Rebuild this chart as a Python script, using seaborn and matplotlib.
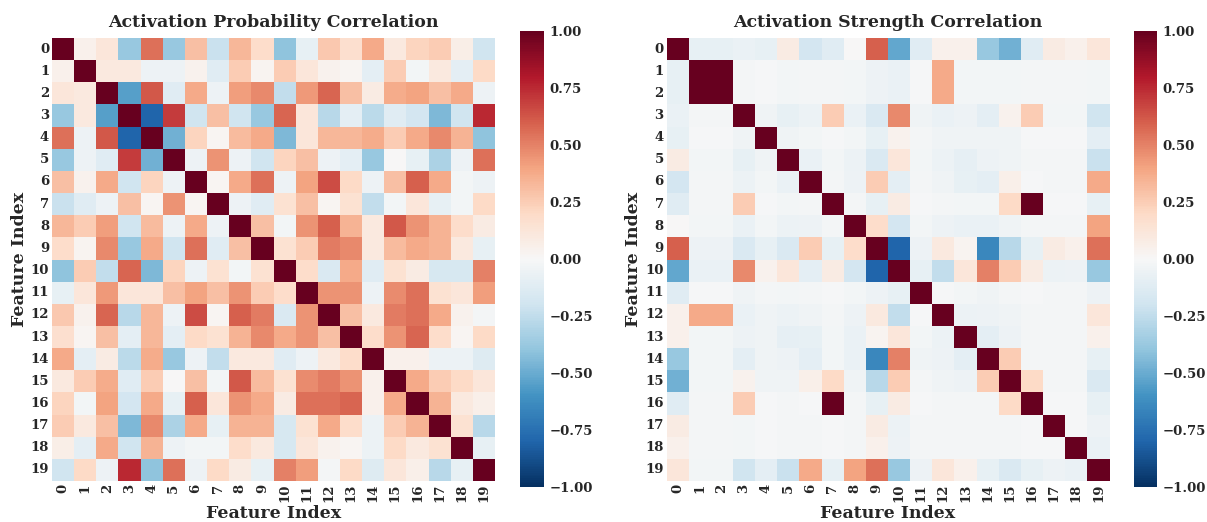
import matplotlib
matplotlib.use("Agg")
import matplotlib.pyplot as plt
import seaborn as sns
import numpy as np

features = [str(i) for i in range(20)]
cbar_ticks = [-1.0, -0.75, -0.5, -0.25, 0.0, 0.25, 0.5, 0.75, 1.0]

# Activation probability correlation
prob_corr = [
    [1.00, 0.05, 0.12, -0.38, 0.55, -0.38, 0.30, -0.22, 0.33, 0.18, -0.40, -0.08, 0.27, 0.17, 0.38, 0.10, 0.22, 0.25, 0.07, -0.20],
    [0.05, 1.00, 0.10, 0.10, -0.05, -0.05, 0.04, -0.12, 0.25, 0.03, 0.25, 0.12, 0.04, 0.02, -0.10, 0.25, -0.03, 0.10, -0.10, 0.20],
    [0.12, 0.10, 1.00, -0.55, 0.62, -0.12, 0.38, -0.05, 0.42, 0.48, -0.25, 0.43, 0.58, 0.30, 0.08, 0.37, 0.40, 0.30, 0.38, -0.05],
    [-0.38, 0.10, -0.55, 1.00, -0.80, 0.70, -0.20, 0.30, -0.20, -0.38, 0.58, 0.12, -0.28, -0.10, -0.27, -0.12, -0.18, -0.45, -0.20, 0.75],
    [0.55, -0.05, 0.62, -0.80, 1.00, -0.48, 0.22, 0.02, 0.32, 0.38, -0.45, 0.12, 0.33, 0.33, 0.37, 0.25, 0.38, 0.48, 0.35, -0.40],
    [-0.38, -0.05, -0.12, 0.70, -0.48, 1.00, -0.05, 0.45, -0.05, -0.20, 0.22, 0.30, -0.05, -0.10, -0.38, 0.00, -0.08, -0.32, -0.05, 0.55],
    [0.30, 0.04, 0.38, -0.20, 0.22, -0.05, 1.00, 0.02, 0.38, 0.55, -0.05, 0.40, 0.65, 0.20, -0.05, 0.30, 0.60, 0.38, -0.03, -0.05],
    [-0.22, -0.12, -0.05, 0.30, 0.02, 0.45, 0.02, 1.00, -0.05, -0.12, 0.15, 0.30, 0.02, 0.15, -0.25, -0.03, 0.12, -0.08, -0.03, 0.20],
    [0.33, 0.25, 0.42, -0.20, 0.32, -0.05, 0.38, -0.05, 1.00, 0.30, -0.03, 0.45, 0.60, 0.35, 0.10, 0.62, 0.45, 0.35, 0.18, 0.08],
    [0.18, 0.03, 0.48, -0.38, 0.38, -0.20, 0.55, -0.12, 0.30, 1.00, 0.15, 0.25, 0.52, 0.48, 0.10, 0.32, 0.38, 0.35, 0.10, -0.08],
    [-0.40, 0.25, -0.25, 0.58, -0.45, 0.22, -0.05, 0.15, -0.03, 0.15, 1.00, 0.18, -0.15, 0.38, -0.12, 0.15, 0.08, -0.17, -0.17, 0.50],
    [-0.08, 0.12, 0.43, 0.12, 0.12, 0.30, 0.40, 0.30, 0.45, 0.25, 0.18, 1.00, 0.45, 0.45, -0.05, 0.47, 0.55, 0.15, 0.12, 0.42],
    [0.27, 0.04, 0.58, -0.28, 0.33, -0.05, 0.65, 0.02, 0.60, 0.52, -0.15, 0.45, 1.00, 0.30, 0.10, 0.52, 0.55, 0.38, 0.04, -0.02],
    [0.17, 0.02, 0.30, -0.10, 0.33, -0.10, 0.20, 0.15, 0.35, 0.48, 0.38, 0.45, 0.30, 1.00, 0.18, 0.45, 0.58, 0.18, 0.02, 0.20],
    [0.38, -0.10, 0.08, -0.27, 0.37, -0.38, -0.05, -0.25, 0.10, 0.10, -0.12, -0.05, 0.10, 0.18, 1.00, 0.05, 0.05, -0.06, -0.06, -0.13],
    [0.10, 0.25, 0.37, -0.12, 0.25, 0.00, 0.30, -0.03, 0.62, 0.32, 0.15, 0.47, 0.52, 0.45, 0.05, 1.00, 0.38, 0.25, 0.20, 0.12],
    [0.22, -0.03, 0.40, -0.18, 0.38, -0.08, 0.60, 0.12, 0.45, 0.38, 0.08, 0.55, 0.55, 0.58, 0.05, 0.38, 1.00, 0.35, 0.10, 0.06],
    [0.25, 0.10, 0.30, -0.45, 0.48, -0.32, 0.38, -0.08, 0.35, 0.35, -0.17, 0.15, 0.38, 0.18, -0.06, 0.25, 0.35, 1.00, 0.15, -0.28],
    [0.07, -0.10, 0.38, -0.20, 0.35, -0.05, -0.03, -0.03, 0.18, 0.10, -0.17, 0.12, 0.04, 0.02, -0.06, 0.20, 0.10, 0.15, 1.00, -0.08],
    [-0.20, 0.20, -0.05, 0.75, -0.40, 0.55, -0.05, 0.20, 0.08, -0.08, 0.50, 0.42, -0.02, 0.20, -0.13, 0.12, 0.06, -0.28, -0.08, 1.00],
]

# Activation strength correlation
strength_corr = [
    [1.00, -0.08, -0.08, -0.07, -0.08, 0.08, -0.18, -0.12, 0.00, 0.60, -0.52, -0.12, 0.05, 0.05, -0.38, -0.48, -0.12, 0.08, 0.05, 0.12],
    [-0.08, 1.00, 1.00, -0.02, -0.01, -0.03, -0.02, -0.02, -0.03, -0.05, -0.07, -0.01, 0.38, -0.03, -0.03, -0.03, -0.02, -0.02, -0.02, -0.03],
    [-0.08, 1.00, 1.00, -0.02, -0.01, -0.03, -0.02, -0.02, -0.03, -0.05, -0.07, -0.01, 0.38, -0.03, -0.03, -0.03, -0.02, -0.02, -0.02, -0.03],
    [-0.07, -0.02, -0.02, 1.00, -0.04, -0.08, -0.06, 0.25, -0.07, -0.15, 0.48, -0.04, -0.07, -0.05, -0.10, 0.04, 0.25, -0.03, -0.03, -0.20],
    [-0.08, -0.01, -0.01, -0.04, 1.00, -0.04, -0.03, -0.01, -0.03, -0.08, 0.04, -0.02, -0.04, -0.04, -0.04, -0.04, -0.01, -0.01, -0.01, -0.10],
    [0.08, -0.03, -0.03, -0.08, -0.04, 1.00, -0.07, -0.03, -0.06, -0.15, 0.12, -0.03, -0.06, -0.09, -0.05, -0.04, -0.02, -0.02, -0.02, -0.22],
    [-0.18, -0.02, -0.02, -0.06, -0.03, -0.07, 1.00, -0.02, -0.05, 0.25, -0.10, -0.02, -0.04, -0.08, -0.10, 0.06, -0.01, -0.02, -0.02, 0.38],
    [-0.12, -0.02, -0.02, 0.25, -0.01, -0.03, -0.02, 1.00, -0.02, -0.08, 0.08, -0.01, -0.02, -0.03, -0.03, 0.20, 1.00, -0.01, -0.01, -0.08],
    [0.00, -0.03, -0.03, -0.07, -0.03, -0.06, -0.05, -0.02, 1.00, 0.18, -0.18, -0.03, -0.05, -0.07, -0.07, -0.04, -0.02, -0.02, -0.02, 0.40],
    [0.60, -0.05, -0.05, -0.15, -0.08, -0.15, 0.25, -0.08, 0.18, 1.00, -0.80, -0.05, 0.10, 0.03, -0.65, -0.28, -0.08, 0.08, 0.05, 0.55],
    [-0.52, -0.07, -0.07, 0.48, 0.04, 0.12, -0.10, 0.08, -0.18, -0.80, 1.00, -0.08, -0.25, 0.12, 0.50, 0.25, 0.08, -0.06, -0.05, -0.38],
    [-0.12, -0.01, -0.01, -0.04, -0.02, -0.03, -0.02, -0.01, -0.03, -0.05, -0.08, 1.00, -0.01, -0.03, -0.04, -0.02, -0.01, -0.02, -0.02, -0.05],
    [0.05, 0.38, 0.38, -0.07, -0.04, -0.06, -0.04, -0.02, -0.05, 0.10, -0.25, -0.01, 1.00, -0.06, -0.05, -0.04, -0.02, -0.02, -0.02, 0.12],
    [0.05, -0.03, -0.03, -0.05, -0.04, -0.09, -0.08, -0.03, -0.07, 0.03, 0.12, -0.03, -0.06, 1.00, -0.10, -0.05, -0.02, -0.02, -0.02, 0.05],
    [-0.38, -0.03, -0.03, -0.10, -0.04, -0.05, -0.10, -0.03, -0.07, -0.65, 0.50, -0.04, -0.05, -0.10, 1.00, 0.25, -0.02, -0.02, -0.02, -0.08],
    [-0.48, -0.03, -0.03, 0.04, -0.04, -0.04, 0.06, 0.20, -0.04, -0.28, 0.25, -0.02, -0.04, -0.05, 0.25, 1.00, 0.20, -0.02, -0.02, -0.15],
    [-0.12, -0.02, -0.02, 0.25, -0.01, -0.02, -0.01, 1.00, -0.02, -0.08, 0.08, -0.01, -0.02, -0.02, -0.02, 0.20, 1.00, -0.01, -0.01, -0.08],
    [0.08, -0.02, -0.02, -0.03, -0.01, -0.02, -0.02, -0.01, -0.02, 0.08, -0.06, -0.02, -0.02, -0.02, -0.02, -0.02, -0.01, 1.00, -0.01, -0.05],
    [0.05, -0.02, -0.02, -0.03, -0.01, -0.02, -0.02, -0.01, -0.02, 0.05, -0.05, -0.02, -0.02, -0.02, -0.02, -0.02, -0.01, -0.01, 1.00, -0.07],
    [0.12, -0.03, -0.03, -0.20, -0.10, -0.22, 0.38, -0.08, 0.40, 0.55, -0.38, -0.05, 0.12, 0.05, -0.08, -0.15, -0.08, -0.05, -0.07, 1.00],
]

sns.set_theme(style="white")
plt.rcParams["font.family"] = ["DejaVu Serif"]
plt.rcParams["font.weight"] = "bold"

W, H = 1207, 522
fig = plt.figure(figsize=(W / 100, H / 100), dpi=100)


def px_axes(x0, y0, x1, y1):
    # axes from pixel box (top-left origin)
    return fig.add_axes([x0 / W, 1 - y1 / H, (x1 - x0) / W, (y1 - y0) / H])


panels = [
    (prob_corr, "Activation Probability Correlation",
     px_axes(51, 38, 496, 481), px_axes(520, 31, 544, 487)),
    (strength_corr, "Activation Strength Correlation",
     px_axes(666, 38, 1110, 481), px_axes(1134, 31, 1157, 487)),
]

for mat, title, ax, cax in panels:
    sns.heatmap(
        np.array(mat),
        ax=ax,
        cbar_ax=cax,
        cmap="RdBu_r",
        vmin=-1,
        vmax=1,
        center=0,
        square=True,
        xticklabels=features,
        yticklabels=features,
        cbar_kws={"ticks": cbar_ticks},
    )
    ax.set_title(title, fontsize=12.5, fontweight="bold", pad=8)
    ax.set_xlabel("Feature Index", fontsize=12.5, fontweight="bold", labelpad=2)
    ax.set_ylabel("Feature Index", fontsize=12.5, fontweight="bold", labelpad=2)
    ax.tick_params(axis="both", labelsize=9.5, length=0, pad=2)
    plt.setp(ax.get_xticklabels(), rotation=90, fontweight="bold")
    plt.setp(ax.get_yticklabels(), rotation=0, fontweight="bold")
    cax.tick_params(labelsize=9.5, length=0, pad=4)
    cax.set_yticklabels([f"{t:.2f}".replace("-", "\u2212") for t in cbar_ticks])
    plt.setp(cax.get_yticklabels(), fontweight="bold")
    ax.collections[0].colorbar.outline.set_visible(False)

fig.savefig("out.png", dpi=100)
